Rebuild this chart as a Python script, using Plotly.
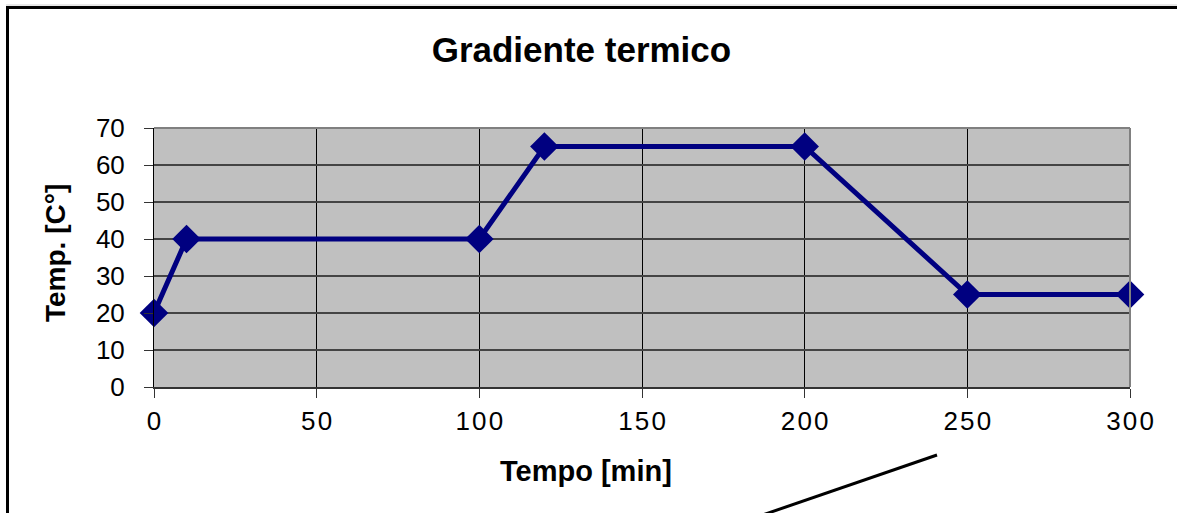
import plotly.graph_objects as go

# Temperature profile of the thermal cycle
tempo_min = [0, 10, 100, 120, 200, 250, 300]
temp_c = [20, 40, 40, 65, 65, 25, 25]

x_ticks = [0, 50, 100, 150, 200, 250, 300]
y_ticks = [0, 10, 20, 30, 40, 50, 60, 70]

FONT = "Liberation Sans, Arial, sans-serif"
HS = "\u200a"  # hair space for wider digit spacing on the x labels
x_ticktext = [HS.join(str(v)) for v in x_ticks]

fig = go.Figure()
fig.add_trace(go.Scatter(
    x=tempo_min, y=temp_c,
    mode="lines+markers",
    line=dict(color="#000080", width=5),
    marker=dict(symbol="diamond", size=22, color="#000080"),
    cliponaxis=False,
    showlegend=False,
))

fig.update_layout(
    width=1177, height=513,
    margin=dict(l=154, r=47, t=128, b=126),
    paper_bgcolor="white",
    plot_bgcolor="#C0C0C0",
    font=dict(family=FONT, color="black"),
    title=dict(
        text="<b>Gradiente termico</b>",
        font=dict(size=35, family=FONT, color="black"),
        x=0.494, xref="container", xanchor="center",
        y=1 - 50 / 513, yref="container", yanchor="middle",
    ),
    xaxis=dict(
        range=[0, 300],
        tickvals=x_ticks, ticktext=x_ticktext,
        tickfont=dict(size=26, family=FONT, color="black"),
        ticks="outside", ticklen=9, tickwidth=1, tickcolor="#333333",
        ticklabelstandoff=1,
        showgrid=True, gridcolor="black", gridwidth=1,
        showline=True, linecolor="#333333", linewidth=2,
        zeroline=False,
        fixedrange=True,
    ),
    yaxis=dict(
        range=[0, 70],
        tickvals=y_ticks,
        tickfont=dict(size=26, family=FONT, color="black"),
        ticks="outside", ticklen=9, tickwidth=1, tickcolor="#333333",
        ticklabelstandoff=14,
        showgrid=True, gridcolor="#444444", gridwidth=2,
        showline=True, linecolor="black", linewidth=1,
        zeroline=False,
        fixedrange=True,
    ),
    annotations=[
        dict(text="<b>Tempo [min]</b>", xref="paper", yref="paper",
             x=(586 - 154) / 976, y=(387 - 471) / 259,
             xanchor="center", yanchor="middle", showarrow=False,
             font=dict(size=29, family=FONT, color="black")),
        dict(text="<b>Temp. [C°]</b>", xref="paper", yref="paper",
             x=(55 - 154) / 976, y=(387 - 253) / 259, textangle=-90,
             xanchor="center", yanchor="middle", showarrow=False,
             font=dict(size=28, family=FONT, color="black")),
    ],
    shapes=[
        # gray top and right edges of the plot area
        dict(type="line", xref="paper", yref="paper", x0=0, x1=1, y0=1, y1=1,
             line=dict(color="#808080", width=2), layer="above"),
        dict(type="line", xref="paper", yref="paper", x0=1, x1=1, y0=0, y1=1,
             line=dict(color="#808080", width=2), layer="above"),
        # outer frame: left and top
        dict(type="line", xref="paper", yref="paper",
             x0=(7.5 - 154) / 976, x1=(7.5 - 154) / 976,
             y0=(387 - 7.5) / 259, y1=(387 - 520) / 259,
             line=dict(color="black", width=3)),
        dict(type="line", xref="paper", yref="paper",
             x0=(6 - 154) / 976, x1=(1180 - 154) / 976,
             y0=(387 - 7.5) / 259, y1=(387 - 7.5) / 259,
             line=dict(color="black", width=3)),
        dict(type="line", xref="paper", yref="paper",
             x0=(6 - 154) / 976, x1=(1180 - 154) / 976,
             y0=(387 - 5) / 259, y1=(387 - 5) / 259,
             line=dict(color="#D0D0D0", width=1)),
        # leader line below the chart
        dict(type="line", xref="paper", yref="paper",
             x0=(748 - 154) / 976, y0=(387 - 520) / 259,
             x1=(937 - 154) / 976, y1=(387 - 455) / 259,
             line=dict(color="black", width=3)),
    ],
)

fig.write_html("out.html")
